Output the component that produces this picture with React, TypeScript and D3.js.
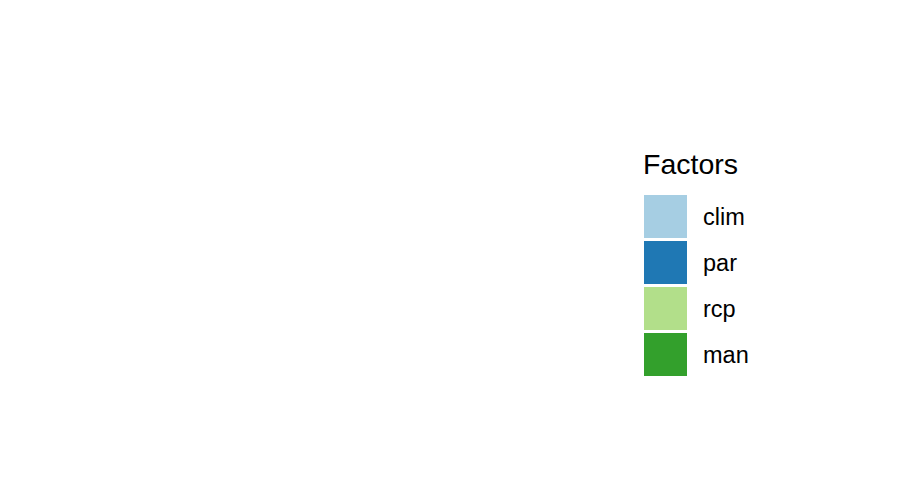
import React from "react";
import * as d3 from "d3";

const factors = ["clim", "par", "rcp", "man"];
const colors = ["#a6cee3", "#1f78b4", "#b2df8a", "#33a02c"];
const legendTitle = "Factors";

export default function App() {
  const width = 916;
  const height = 497;
  const x0 = 644;
  const sw = 43;
  const y = d3.scaleBand<string>().domain(factors).range([195, 195 + 46 * factors.length]).paddingInner(0);
  const color = d3.scaleOrdinal<string, string>().domain(factors).range(colors);
  const font = "Helvetica, Arial, 'Liberation Sans', sans-serif";
  return (
    <svg width={width} height={height} style={{ position: "absolute", left: 0, top: 0 }}>
      <rect width={width} height={height} fill="#ffffff" />
      <text x={643} y={174} fontFamily={font} fontSize={28.5} fill="#000">
        {legendTitle}
      </text>
      {factors.map((f) => {
        const yy = y(f)!;
        return (
          <g key={f}>
            <rect x={x0} y={yy} width={sw} height={y.bandwidth() - 3} fill={color(f)} />
            <text x={703} y={yy + 30} fontFamily={font} fontSize={23.5} fill="#000">
              {f}
            </text>
          </g>
        );
      })}
    </svg>
  );
}
